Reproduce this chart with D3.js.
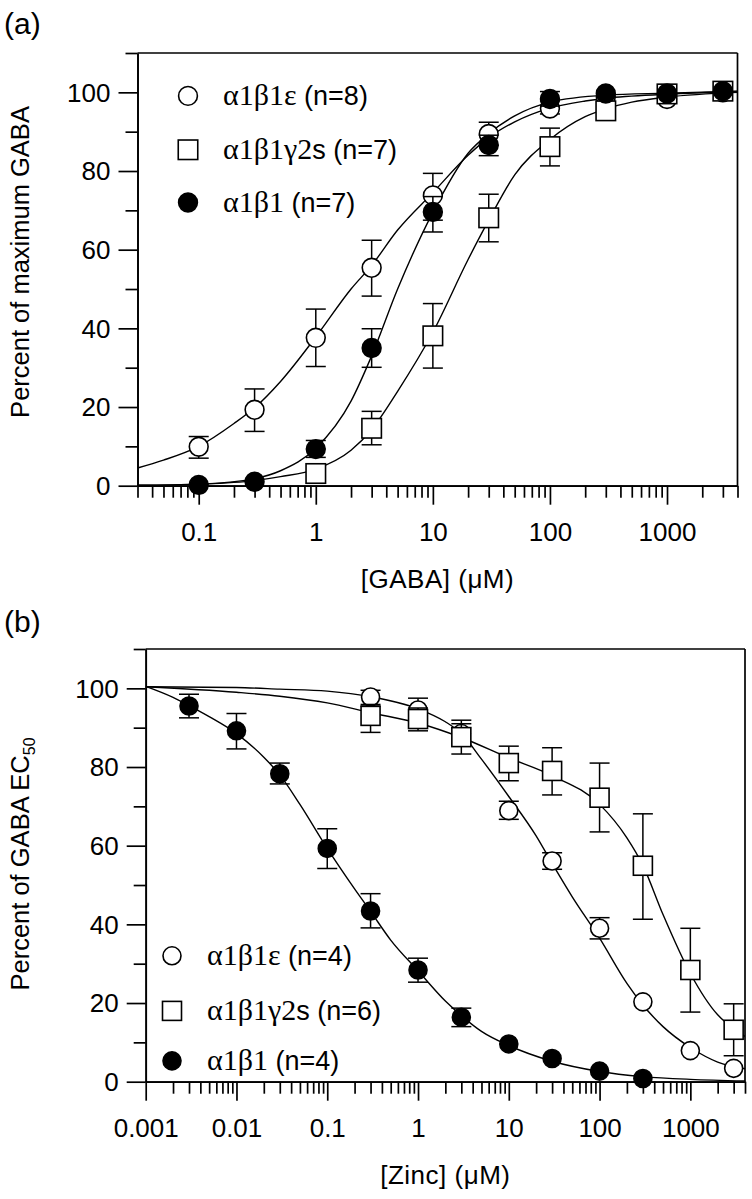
<!DOCTYPE html>
<html>
<head>
<meta charset="utf-8">
<script src="https://cdn.jsdelivr.net/npm/d3@7"></script>
<style>
  html, body { margin: 0; padding: 0; background: #fff; }
  svg { display: block; }
</style>
</head>
<body>
<svg id="chart" width="752" height="1199"></svg>
<script>
// ---------------- DATA ----------------
// Panel (a): GABA concentration-response
const aMajorTicks = [0.1, 1, 10, 100, 1000];
const aMajorLabels = ["0.1", "1", "10", "100", "1000"];
const aEpsX  = [0.1, 0.3, 1, 3, 10, 30, 100, 300, 1000, 3000];
const aEpsY  = [9.9, 19.3, 37.6, 55.4, 73.8, 89.4, 95.9, 98.8, 98.3, 100];
const aEpsLo = [7.0, 13.8, 30.3, 48.2, 67.5, 86.5, 94.5, null, null, null];
const aEpsHi = [12.5, 24.6, 44.9, 62.4, 79.4, 92.4, 97.8, null, null, null];
const aG2X   = [1, 3, 10, 30, 100, 300, 1000, 3000];
const aG2Y   = [3.1, 14.6, 38.1, 68.1, 86.2, 95.3, 99.6, 100.3];
const aG2Lo  = [null, 10.4, 29.9, 62.0, 81.3, null, null, null];
const aG2Hi  = [null, 18.9, 46.3, 74.1, 90.9, null, null, null];
const aB1X   = [0.1, 0.3, 1, 3, 10, 30, 100, 300, 1000, 3000];
const aB1Y   = [0.2, 1.0, 9.3, 35, 69.6, 86.6, 98.3, 99.7, 99.7, 100.3];
const aB1Lo  = [null, null, 7.2, 30.1, 64.5, 83.9, 96.5, null, null, null];
const aB1Hi  = [null, null, 11.5, 39.9, 73.5, 89.1, 100.2, null, null, null];
// fitted curves
const aEpsCurveX = [0.03, 0.05, 0.1, 0.2, 0.3, 0.5, 1, 2, 3, 5, 10, 20, 30, 50, 100, 200, 300, 1000, 4000];
const aEpsCurveY = [4.5, 6.5, 10, 15.8, 19.8, 26.5, 37.8, 50, 56, 65, 74.5, 84, 88.5, 92.5, 96, 97.8, 98.5, 99.5, 100.2];
const aG2CurveX  = [0.03, 0.1, 0.3, 0.5, 1, 2, 3, 5, 10, 20, 30, 50, 100, 200, 300, 500, 1000, 4000];
const aG2CurveY  = [0.1, 0.4, 1.3, 2.3, 4.2, 9, 14.3, 24, 39, 57.5, 67.5, 79, 88, 93.8, 95.8, 97.5, 98.8, 100];
const aB1CurveX  = [0.03, 0.1, 0.3, 0.5, 1, 2, 3, 5, 10, 20, 30, 50, 100, 300, 1000, 4000];
const aB1CurveY  = [0.1, 0.4, 1.8, 3.8, 9.5, 21.5, 33, 50, 69.5, 84.5, 89.5, 94, 97.5, 99.3, 99.8, 100.3];
const aLegendMain = ["α1β1ε", "α1β1γ2", "α1β1"];
const aLegendRest = [" (n=8)", "s (n=7)", " (n=7)"];

// Panel (b): Zinc inhibition
const bMajorTicks = [0.001, 0.01, 0.1, 1, 10, 100, 1000];
const bMajorLabels = ["0.001", "0.01", "0.1", "1", "10", "100", "1000"];
const bEpsX  = [0.3, 1, 3, 10, 30, 100, 300, 1000, 3000];
const bEpsY  = [97.8, 94.5, 88.5, 68.9, 56.1, 39, 20.3, 7.9, 3.4];
const bEpsLo = [95.5, 91.5, 86, 66.7, 54, 36.3, null, null, null];
const bEpsHi = [99.5, 97.5, 91, 71.3, 58.2, 41.7, null, null, null];
const bG2X   = [0.3, 1, 3, 10, 30, 100, 300, 1000, 3000];
const bG2Y   = [93, 92.2, 87.6, 81, 79, 72.2, 54.9, 28.4, 13.2];
const bG2Lo  = [88.8, 89.2, 83.3, 76.5, 72.9, 63.5, 41.3, 17.7, 6.6];
const bG2Hi  = [95.9, 95, 91.9, 85.3, 84.9, 81, 68.1, 39, 19.8];
const bB1X   = [0.003, 0.01, 0.03, 0.1, 0.3, 1, 3, 10, 30, 100, 300];
const bB1Y   = [95.5, 89.2, 78.3, 59.3, 43.4, 28.4, 16.4, 9.6, 5.9, 2.7, 0.8];
const bB1Lo  = [92.5, 84.6, 75.7, 54.2, 39.1, 25.3, 14, null, null, null, null];
const bB1Hi  = [98.5, 93.6, 81, 64.3, 47.8, 31.4, 18.7, null, null, null, null];
const bEpsCurveX = [0.001, 0.01, 0.03, 0.1, 0.3, 1, 2, 3, 5, 10, 20, 30, 50, 100, 200, 300, 500, 1000, 2000, 4000];
const bEpsCurveY = [100.4, 100.2, 99.8, 99.3, 97.9, 94.8, 91.5, 88.5, 82, 72.5, 62.5, 55.5, 47, 36.5, 25, 19.5, 14, 8.7, 5, 3.3];
const bG2CurveX  = [0.001, 0.01, 0.03, 0.1, 0.3, 1, 3, 10, 30, 100, 200, 300, 500, 1000, 2000, 3000, 4000];
const bG2CurveY  = [100.4, 99, 98, 96.3, 93.8, 91.2, 87.5, 82.3, 77.8, 70.5, 62, 55, 42.5, 27.5, 17, 13.5, 11.5];
const bB1CurveX  = [0.001, 0.002, 0.003, 0.005, 0.01, 0.02, 0.03, 0.05, 0.1, 0.2, 0.3, 0.5, 1, 2, 3, 5, 10, 30, 100, 300, 1000, 4000];
const bB1CurveY  = [100.5, 97.7, 95.6, 92.8, 88.5, 82.5, 78, 70.5, 59.3, 49, 43.3, 36, 28.2, 20.5, 16.8, 12.8, 9.2, 5.2, 2.6, 1.3, 0.6, 0.2];
const bLegendMain = ["α1β1ε", "α1β1γ2", "α1β1"];
const bLegendRest = [" (n=4)", "s (n=6)", " (n=4)"];

const yMajorTicks = [0, 20, 40, 60, 80, 100];
const yMinorTicks = [10, 30, 50, 70, 90, 110];

// ---------------- DRAW ----------------
const svg = d3.select("#chart");
const SANS = "'Liberation Sans', Arial, Helvetica, sans-serif";
const SERIF = "'Liberation Serif', 'Times New Roman', serif";
const AXW = 1.7;

function zip(xs, ys, los, his) {
  return xs.map((x, i) => ({ x, y: ys[i], lo: los ? los[i] : null, hi: his ? his[i] : null }));
}
function minorTicksFor(domain) {
  const out = [];
  const e0 = Math.floor(Math.log10(domain[0])), e1 = Math.ceil(Math.log10(domain[1]));
  for (let e = e0; e <= e1; e++) {
    for (let m = 2; m <= 9; m++) {
      const v = +(m * Math.pow(10, e)).toPrecision(6);
      if (v >= domain[0] * 0.999 && v <= domain[1] * 1.001) out.push(v);
    }
  }
  return out;
}

function panel(cfg) {
  const x = d3.scaleLog().domain(cfg.xDomain).range(cfg.xRange);
  const y = d3.scaleLinear().domain([0, 110]).range(cfg.yRange);
  const g = svg.append("g");

  const xMinor = minorTicksFor(cfg.xDomain);
  const gxm = g.append("g").attr("transform", `translate(0,${y(0)})`)
    .call(d3.axisBottom(x).tickValues(xMinor).tickSize(12).tickSizeOuter(0).tickFormat(""));
  const gx = g.append("g").attr("transform", `translate(0,${y(0)})`)
    .call(d3.axisBottom(x).tickValues(cfg.majors).tickSize(19).tickSizeOuter(0).tickPadding(18)
      .tickFormat((d, i) => cfg.majorLabels[i]));
  const gym = g.append("g").attr("transform", `translate(${x.range()[0]},0)`)
    .call(d3.axisLeft(y).tickValues(yMinorTicks).tickSize(12).tickSizeOuter(0).tickFormat(""));
  const gy = g.append("g").attr("transform", `translate(${x.range()[0]},0)`)
    .call(d3.axisLeft(y).tickValues(yMajorTicks).tickSize(19).tickSizeOuter(0).tickPadding(8));
  [gxm, gx, gym, gy].forEach(a => {
    a.selectAll("line").attr("stroke", "#000").attr("stroke-width", AXW);
    a.selectAll(".domain").attr("stroke", "#000").attr("stroke-width", AXW);
    a.selectAll("text").attr("font-family", SANS).attr("font-size", 26).attr("fill", "#000");
  });
  gy.selectAll("text").attr("dy", "0.34em");

  g.append("line").attr("x1", x.range()[0]).attr("x2", x.range()[1])
    .attr("y1", y(110)).attr("y2", y(110)).attr("stroke", "#000").attr("stroke-width", AXW);
  g.append("line").attr("x1", x.range()[1]).attr("x2", x.range()[1])
    .attr("y1", y(110)).attr("y2", y(0)).attr("stroke", "#000").attr("stroke-width", AXW);

  const line = d3.line().x(d => x(d.x)).y(d => y(d.y)).curve(d3.curveMonotoneX);
  const plotClip = "clip" + cfg.id;
  g.append("clipPath").attr("id", plotClip).append("rect")
    .attr("x", x.range()[0]).attr("y", y(110)).attr("width", x.range()[1] - x.range()[0]).attr("height", y(0) - y(110));
  cfg.series.forEach(s => {
    g.append("path").datum(zip(s.cx, s.cy)).attr("d", line)
      .attr("fill", "none").attr("stroke", "#000").attr("stroke-width", 1.4)
      .attr("clip-path", `url(#${plotClip})`);
  });

  cfg.series.forEach(s => {
    const pts = zip(s.x, s.y, s.lo, s.hi);
    const eb = g.append("g").attr("stroke", "#000").attr("stroke-width", 1.5);
    pts.filter(d => d.lo != null).forEach(d => {
      eb.append("line").attr("x1", x(d.x)).attr("x2", x(d.x)).attr("y1", y(d.lo)).attr("y2", y(d.hi));
      eb.append("line").attr("x1", x(d.x) - cfg.cap).attr("x2", x(d.x) + cfg.cap).attr("y1", y(d.lo)).attr("y2", y(d.lo));
      eb.append("line").attr("x1", x(d.x) - cfg.cap).attr("x2", x(d.x) + cfg.cap).attr("y1", y(d.hi)).attr("y2", y(d.hi));
    });
    pts.forEach(d => drawMarker(g, s.shape, x(d.x), y(d.y), cfg.msize));
  });

  cfg.legendMain.forEach((lab, i) => {
    const shape = cfg.series[i].shape;
    const ly = y(cfg.legendY[i]);
    drawMarker(g, shape, cfg.legendX, ly, cfg.msize);
    const t = g.append("text").attr("x", cfg.legendX + 35).attr("y", ly + 9.5).attr("fill", "#000");
    t.append("tspan").attr("font-family", SERIF).attr("font-size", 30).text(lab);
    t.append("tspan").attr("font-family", SANS).attr("font-size", 27).text(cfg.legendRest[i]);
  });

  g.append("text").attr("x", (x.range()[0] + x.range()[1]) / 2).attr("y", y(0) + 102)
    .attr("text-anchor", "middle").attr("font-family", SANS).attr("font-size", 26)
    .attr("letter-spacing", 0.5).text(cfg.xTitle);
  const yt = g.append("text").attr("transform", `translate(29,${cfg.yTitleCenter}) rotate(-90)`)
    .attr("text-anchor", "middle").attr("font-family", SANS).attr("font-size", 25.5);
  yt.append("tspan").text(cfg.yTitle);
  if (cfg.yTitleSub) yt.append("tspan").attr("font-size", 16).attr("dy", 6).text(cfg.yTitleSub);

  g.append("text").attr("x", 4).attr("y", cfg.tagY).attr("font-family", SANS).attr("font-size", 30).text(cfg.tag);
}

function drawMarker(g, shape, cx, cy, size) {
  if (shape === "square") {
    g.append("rect").attr("x", cx - size.sq / 2).attr("y", cy - size.sq / 2)
      .attr("width", size.sq).attr("height", size.sq)
      .attr("fill", "#fff").attr("stroke", "#000").attr("stroke-width", 1.6);
  } else {
    g.append("circle").attr("cx", cx).attr("cy", cy).attr("r", size.r)
      .attr("fill", shape === "filled" ? "#000" : "#fff").attr("stroke", "#000").attr("stroke-width", 1.6);
  }
}

panel({
  id: "a", tag: "(a)", tagY: 34,
  xDomain: [0.03, 4000], xRange: [137.5, 737.5], yRange: [485.7, 53],
  majors: aMajorTicks, majorLabels: aMajorLabels,
  cap: 10, msize: { r: 9.4, sq: 19.5 },
  series: [
    { shape: "open", x: aEpsX, y: aEpsY, lo: aEpsLo, hi: aEpsHi, cx: aEpsCurveX, cy: aEpsCurveY },
    { shape: "square", x: aG2X, y: aG2Y, lo: aG2Lo, hi: aG2Hi, cx: aG2CurveX, cy: aG2CurveY },
    { shape: "filled", x: aB1X, y: aB1Y, lo: aB1Lo, hi: aB1Hi, cx: aB1CurveX, cy: aB1CurveY }
  ],
  legendMain: aLegendMain, legendRest: aLegendRest,
  legendX: 188, legendY: [99.1, 85.4, 72.0],
  xTitle: "[GABA] (μM)", yTitle: "Percent of maximum GABA", yTitleCenter: 262
});

panel({
  id: "b", tag: "(b)", tagY: 632,
  xDomain: [0.001, 4000], xRange: [145.7, 745], yRange: [1081.7, 649],
  majors: bMajorTicks, majorLabels: bMajorLabels,
  cap: 10, msize: { r: 9, sq: 19 },
  series: [
    { shape: "open", x: bEpsX, y: bEpsY, lo: bEpsLo, hi: bEpsHi, cx: bEpsCurveX, cy: bEpsCurveY },
    { shape: "square", x: bG2X, y: bG2Y, lo: bG2Lo, hi: bG2Hi, cx: bG2CurveX, cy: bG2CurveY },
    { shape: "filled", x: bB1X, y: bB1Y, lo: bB1Lo, hi: bB1Hi, cx: bB1CurveX, cy: bB1CurveY }
  ],
  legendMain: bLegendMain, legendRest: bLegendRest,
  legendX: 172, legendY: [32, 18, 5.3],
  xTitle: "[Zinc] (μM)", yTitle: "Percent of GABA EC", yTitleSub: "50", yTitleCenter: 864
});
</script>
</body>
</html>
